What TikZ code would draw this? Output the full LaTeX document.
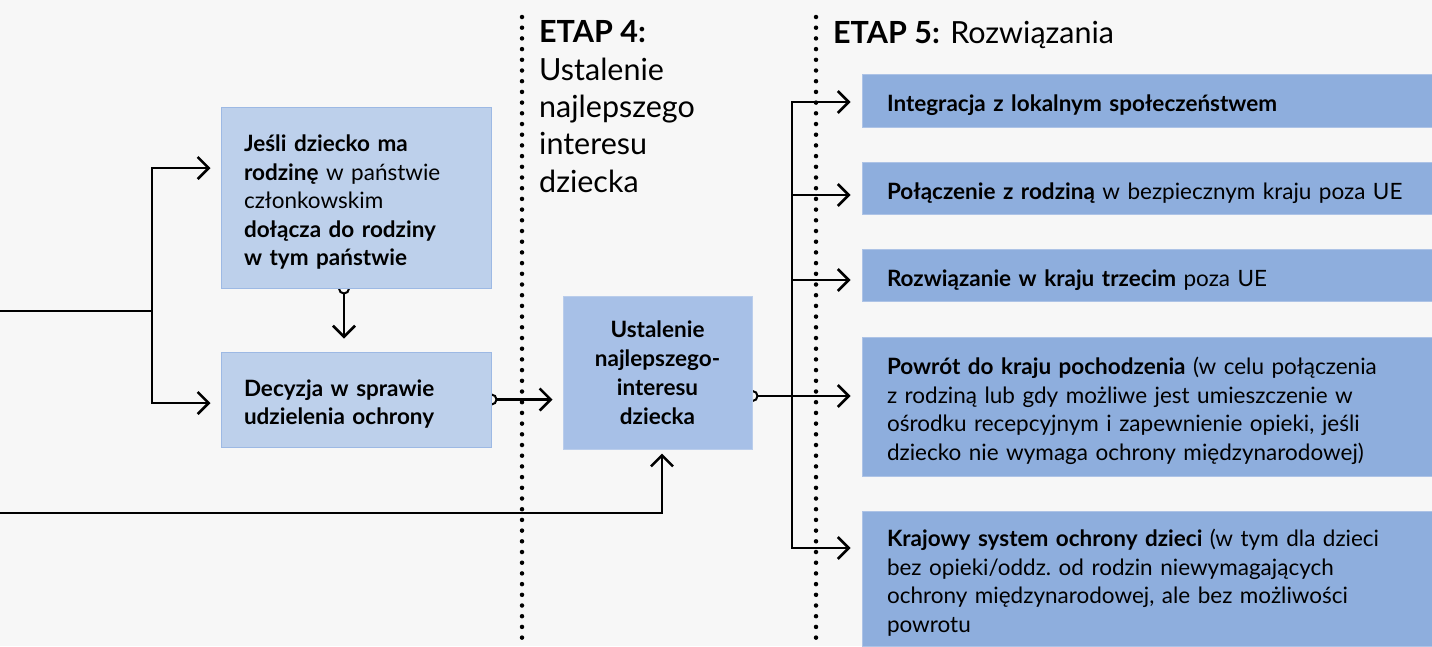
\documentclass[tikz,border=0pt]{standalone}
\usepackage{fontspec}
\setmainfont{Lato}
\usetikzlibrary{arrows.meta,positioning}
\pgfdeclarelayer{backdrop}
\pgfdeclarelayer{links}
\pgfsetlayers{backdrop,links,main}

\definecolor{bgpage}{HTML}{F7F7F7}
\definecolor{stepfill}{HTML}{BDD0EB}
\definecolor{stepline}{HTML}{9DB9E4}
\definecolor{bestfill}{HTML}{A7C0E7}
\definecolor{bestline}{HTML}{BACDEB}
\definecolor{solfill}{HTML}{8EAEDD}
\definecolor{solline}{HTML}{ADC3E6}

\tikzset{
  boxfont/.style={font=\fontsize{22.5pt}{28.5pt}\selectfont,
    execute at begin node={\rule{0pt}{30pt}},
    execute at end node={\rule[-8pt]{0pt}{8pt}}},
  stepbox/.style={boxfont, draw=stepline, fill=stepfill, line width=1pt,
    inner xsep=23pt, inner ysep=0pt, text width=224pt, align=left},
  bestbox/.style={font=\fontsize{22.5pt}{29pt}\selectfont\bfseries,
    draw=bestline, fill=bestfill, line width=1pt, inner xsep=8pt,
    inner ysep=0pt, text width=173pt, align=center, minimum height=153pt},
  solbox/.style={boxfont, draw=solline, fill=solfill, line width=0.8pt,
    inner xsep=25pt, inner ysep=0pt, text width=520pt, align=left},
  stagetext/.style={font=\fontsize{30.5pt}{37.3pt}\selectfont, align=left,
    inner sep=0pt, anchor=base west},
  stage/.style={line width=4.5pt, line cap=round, dash pattern=on 0pt off 10.7pt},
  link/.style={line width=2.6pt},
  arr/.style={line width=2.6pt, -{Straight Barb[length=11pt,width=22pt]}},
  knob/.style={line width=2pt, fill=bgpage}
}

\begin{document}
\begin{tikzpicture}[x=1pt,y=-1pt]
\begin{pgfonlayer}{backdrop}
  \fill[bgpage] (0,0) rectangle (1432,646);
\end{pgfonlayer}
\useasboundingbox (0,0) rectangle (1432,646);

% stage separators
\draw[stage] (522,17) -- (522,646);
\draw[stage] (816,17) -- (816,646);

% stage titles (base = last line)
\node[stagetext] (etap4) at (539,192) {\textbf{ETAP 4:}\\Ustalenie\\najlepszego\\interesu\\dziecka};
\node[stagetext] (etap5) at (833,43) {\textbf{ETAP 5:} Rozwiązania};

% boxes
\node[stepbox, minimum height=181pt] (family) at (356,197.5)
  {\textbf{Jeśli dziecko ma}\\\textbf{rodzinę} w państwie\\członkowskim\\\textbf{dołącza do rodziny}\\\textbf{w tym państwie}};
\node[stepbox, minimum height=95pt] (decision) at (356,399.5)
  {\textbf{Decyzja w sprawie}\\\textbf{udzielenia ochrony}};
\node[bestbox] (best) at (657.5,372.5) {Ustalenie\\najlepszego-\\interesu\\dziecka};

\node[solbox, minimum height=53pt] (integr) at (1147,100.5)
  {\textbf{Integracja z lokalnym społeczeństwem}};
\node[solbox, minimum height=52pt] (reunif) at (1147,188)
  {\textbf{Połączenie z rodziną} w bezpiecznym kraju poza UE};
\node[solbox, minimum height=52pt] (third) at (1147,275)
  {\textbf{Rozwiązanie w kraju trzecim} poza UE};
\node[solbox, minimum height=139pt] (homecountry) at (1147,406.5)
  {\textbf{Powrót do kraju pochodzenia} (w celu połączenia\\z rodziną lub gdy możliwe jest umieszczenie w\\ośrodku recepcyjnym i zapewnienie opieki, jeśli\\dziecko nie wymaga ochrony międzynarodowej)};
\node[solbox, minimum height=135pt] (national) at (1147,578.5)
  {\textbf{Krajowy system ochrony dzieci} (w tym dla dzieci\\bez opieki/oddz.\ od rodzin niewymagających\\ochrony międzynarodowej, ale bez możliwości\\powrotu};

% connectors
\begin{pgfonlayer}{links}
  \coordinate (entry) at (0,311);
  \coordinate (split) at (152,311);
  \draw[link] (entry) -- (split);
  \draw[arr, shorten >=10pt] (split) |- ([yshift=29.5pt]family.west);
  \draw[arr, shorten >=10pt] (split) |- ([yshift=-3.5pt]decision.west);
  \draw[arr, shorten >=13pt] ([xshift=-12pt]family.south) -- ([xshift=-12pt]decision.north);
  \draw[knob] ([xshift=-12pt]family.south) circle (5pt);
  \draw[arr, shorten >=10pt] (decision.east) -- (decision.east -| best.west);
  \draw[knob] (decision.east) circle (5pt);
  \coordinate (entry2) at (0,513);
  \draw[arr, shorten >=4pt] (entry2) -| ([xshift=4.5pt]best.south);
  \draw[arr, shorten >=11pt] ([yshift=-23.5pt]best.east) -- ([yshift=-23.5pt]best.east -| homecountry.west);
  \draw[knob] ([yshift=-23.5pt]best.east) circle (5pt);
  \coordinate (fork) at (792,396);
  \foreach \target/\dy in {integr/-1.5, reunif/-7, third/-5, national/30.5}
    \draw[arr, shorten >=11pt] (fork) |- ([yshift=\dy pt]\target.west);
\end{pgfonlayer}
\end{tikzpicture}
\end{document}
